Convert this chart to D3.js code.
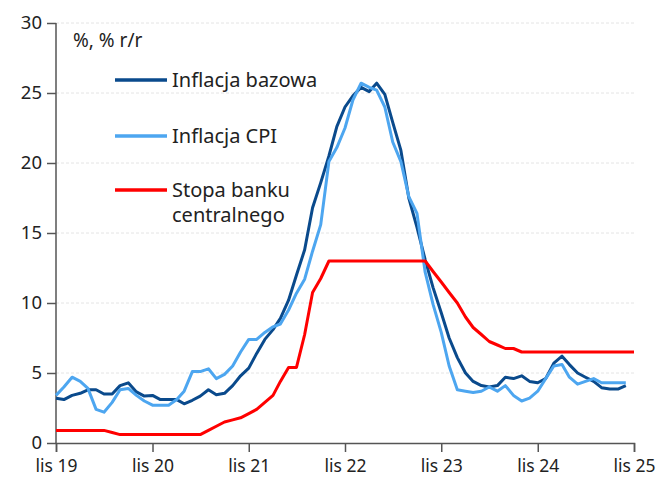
<!DOCTYPE html>
<html>
<head>
<meta charset="utf-8">
<script src="https://cdn.jsdelivr.net/npm/d3@7"></script>
<style>
  body { margin: 0; background: #fff; }
  text { font-family: "Noto Sans", sans-serif; fill: #222; }
</style>
</head>
<body>
<svg id="chart" width="659" height="477"></svg>
<script>
// monthly data, lis 2019 onward
var startMonth = new Date(2019, 10, 1);

var coreInflation = [
  3.2, 3.1,
  3.4, 3.55, 3.8, 3.8, 3.5, 3.5, 4.1, 4.3, 3.65, 3.35, 3.4, 3.1,
  3.1, 3.1, 2.8, 3.05, 3.35, 3.8, 3.45, 3.55, 4.1, 4.8, 5.35, 6.4,
  7.4, 8.1, 8.9, 10.2, 12.0, 13.8, 16.8, 18.6, 20.5, 22.6, 24.0, 24.8,
  25.4, 25.1, 25.7, 24.9, 22.9, 20.9, 17.5, 15.4, 13.1, 11.1, 9.3, 7.5,
  6.1, 5.0, 4.4, 4.1, 4.0, 4.1, 4.7, 4.6, 4.8, 4.4, 4.3, 4.6,
  5.7, 6.2, 5.6, 5.0, 4.7, 4.4, 3.95, 3.85, 3.85, 4.1
];

var cpiInflation = [
  3.4, 4.0,
  4.7, 4.4, 3.9, 2.4, 2.2, 2.9, 3.8, 3.9, 3.4, 3.0, 2.7, 2.7,
  2.7, 3.1, 3.7, 5.1, 5.1, 5.3, 4.6, 4.9, 5.5, 6.5, 7.4, 7.4,
  7.9, 8.3, 8.5, 9.5, 10.7, 11.7, 13.7, 15.6, 20.1, 21.1, 22.5, 24.5,
  25.7, 25.4, 25.2, 24.0, 21.5, 20.1, 17.6, 16.4, 12.2, 9.9, 7.9, 5.5,
  3.8, 3.7, 3.6, 3.7, 4.0, 3.7, 4.1, 3.4, 3.0, 3.2, 3.7, 4.6,
  5.5, 5.6, 4.7, 4.2, 4.4, 4.6, 4.3, 4.3, 4.3, 4.3
];

var policyRate = [
  0.9, 0.9,
  0.9, 0.9, 0.9, 0.9, 0.9, 0.75, 0.6, 0.6, 0.6, 0.6, 0.6, 0.6,
  0.6, 0.6, 0.6, 0.6, 0.6, 0.9, 1.2, 1.5, 1.65, 1.8, 2.1, 2.4,
  2.9, 3.4, 4.4, 5.4, 5.4, 7.75, 10.75, 11.75, 13, 13, 13, 13,
  13, 13, 13, 13, 13, 13, 13, 13, 13, 12.25, 11.5, 10.75,
  10.0, 9.0, 8.25, 7.75, 7.25, 7.0, 6.75, 6.75, 6.5, 6.5, 6.5, 6.5,
  6.5, 6.5, 6.5, 6.5, 6.5, 6.5, 6.5, 6.5, 6.5, 6.5, 6.5
];

var yTicks = [0, 5, 10, 15, 20, 25, 30];
var xTickLabels = ["lis 19", "lis 20", "lis 21", "lis 22", "lis 23", "lis 24", "lis 25"];

var seriesNames = ["Inflacja bazowa", "Inflacja CPI", ["Stopa banku", "centralnego"]];
var seriesColors = ["#0a4a8c", "#4da6f0", "#ff0000"];
var unitLabel = "%, % r/r";

var svg = d3.select("#chart");
var margin = {top: 23, right: 25, bottom: 34, left: 56};
var width = 659 - margin.left - margin.right;
var height = 477 - margin.top - margin.bottom;

var g = svg.append("g").attr("transform", `translate(${margin.left},${margin.top})`);

var xTickDates = xTickLabels.map((d, i) => d3.timeYear.offset(startMonth, i));

var x = d3.scaleTime()
  .domain([startMonth, xTickDates[xTickDates.length - 1]])
  .range([0, width]);
var y = d3.scaleLinear().domain([0, 30]).range([height, 0]);

var dateAt = i => d3.timeMonth.offset(startMonth, i);

// grid
g.append("g")
  .selectAll("line")
  .data(yTicks.filter(d => d > 0))
  .join("line")
  .attr("x1", 0).attr("x2", width)
  .attr("y1", d => y(d)).attr("y2", d => y(d))
  .attr("stroke", "#e4e4e4")
  .attr("stroke-dasharray", "3,2")
  .attr("stroke-width", 1);

// axes
var yAxis = g.append("g")
  .call(d3.axisLeft(y).tickValues(yTicks).tickSize(9).tickPadding(5).tickFormat(d3.format("d")));
var xAxis = g.append("g")
  .attr("transform", `translate(0,${height})`)
  .call(d3.axisBottom(x).tickValues(xTickDates).tickSize(9).tickPadding(3)
    .tickFormat((d, i) => xTickLabels[i]));

[yAxis, xAxis].forEach(a => {
  a.select(".domain").attr("stroke", "#555").attr("stroke-width", 1.5);
  a.selectAll(".tick line").attr("stroke", "#555").attr("stroke-width", 1.5);
  a.selectAll("text").attr("font-family", "Noto Sans").attr("fill", "#222");
});
yAxis.select(".domain").attr("d", `M0,${height}V0`);
yAxis.selectAll("text").attr("font-size", 18.5).attr("dy", "0.3em");
xAxis.selectAll("text").attr("font-size", 17.5).attr("dy", "0.97em");

// lines
var line = d3.line()
  .x((d, i) => x(dateAt(i)))
  .y(d => y(d));

[coreInflation, cpiInflation, policyRate].forEach((s, k) => {
  g.append("path")
    .datum(s)
    .attr("fill", "none")
    .attr("stroke", seriesColors[k])
    .attr("stroke-width", 3)
    .attr("stroke-linejoin", "round")
    .attr("d", line);
});

// legend
svg.append("text")
  .attr("x", 73).attr("y", 47)
  .attr("font-size", 19)
  .text(unitLabel);

var legendY = [80, 136, 190];
var lg = svg.append("g");
seriesNames.forEach((name, k) => {
  lg.append("line")
    .attr("x1", 115).attr("x2", 167)
    .attr("y1", legendY[k]).attr("y2", legendY[k])
    .attr("stroke", seriesColors[k])
    .attr("stroke-width", 3.5);
  var t = lg.append("text")
    .attr("x", 172).attr("y", legendY[k] + 7)
    .attr("font-size", 20);
  var lines = Array.isArray(name) ? name : [name];
  lines.forEach((l, j) => {
    t.append("tspan").attr("x", 172).attr("dy", j === 0 ? 0 : 25).text(l);
  });
});
</script>
</body>
</html>
